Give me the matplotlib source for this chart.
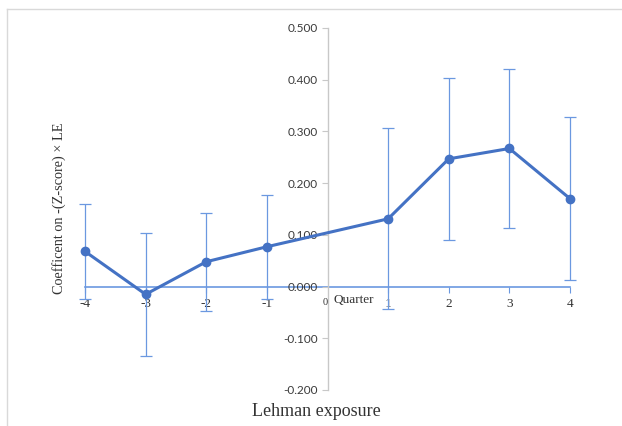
import matplotlib.pyplot as plt
from matplotlib.lines import Line2D
from matplotlib.ticker import FormatStrFormatter
import matplotlib.transforms as mtransforms

# data
quarters = [-4, -3, -2, -1, 1, 2, 3, 4]
coef = [0.068, -0.015, 0.048, 0.077, 0.131, 0.247, 0.267, 0.170]
err = [0.092, 0.119, 0.095, 0.101, 0.175, 0.156, 0.154, 0.157]
xtick_vals = [-4, -3, -2, -1, 1, 2, 3, 4]
ytick_vals = [-0.2, -0.1, 0.0, 0.1, 0.2, 0.3, 0.4, 0.5]

line_col = '#4472C4'
bar_col = '#6b98e0'
serif = 'Liberation Serif'

fig = plt.figure(figsize=(6.22, 4.26), dpi=100)
ax = fig.add_axes([85 / 622, 1 - 390 / 426, 485 / 622, 362 / 426])

# error bars then the line
ax.errorbar(quarters, coef, yerr=err, fmt='none', ecolor=bar_col,
            elinewidth=0.9, capsize=4, capthick=0.9, clip_on=False, zorder=2)
ax.plot(quarters, coef, color=line_col, lw=2.2, marker='o', ms=6,
        clip_on=False, zorder=3)

ax.set_xlim(-4, 4)
ax.set_ylim(-0.2, 0.5)

# axes crossing at zero
for s in ['top', 'right']:
    ax.spines[s].set_visible(False)
ax.spines['left'].set_position(('data', 0))
ax.spines['left'].set_color('#c8c8c8')
ax.spines['left'].set_linewidth(1.0)
ax.spines['bottom'].set_position(('data', 0))
ax.spines['bottom'].set_color(bar_col)
ax.spines['bottom'].set_linewidth(1.2)
ax.spines['bottom'].set_zorder(1)

ax.set_yticks(ytick_vals)
ax.yaxis.set_major_formatter(FormatStrFormatter('%.3f'))
ax.tick_params(axis='y', direction='out', length=4, color='#c8c8c8',
               labelsize=8.5, labelcolor='#3a3a3a', pad=3)
for lab in ax.get_yticklabels():
    lab.set_family('Lato')

ax.set_xticks(xtick_vals)
ax.set_xticklabels([str(v) for v in xtick_vals])
ax.tick_params(axis='x', direction='out', length=4, color=bar_col,
               labelsize=9.5, labelcolor='#333333', pad=4)
for lab in ax.get_xticklabels():
    lab.set_family(serif)

# the "0" label and the axis title "Quarter"
off = mtransforms.offset_copy(ax.transData, fig=fig, x=-1.5, y=-8.5, units='points')
ax.text(0, 0, '0', transform=off, ha='center', va='top', fontsize=7.5,
        family=serif, color='#333333')
off2 = mtransforms.offset_copy(ax.transData, fig=fig, x=4.5, y=-5.5, units='points')
ax.text(0, 0, 'Quarter', transform=off2, ha='left', va='top', fontsize=9.5,
        family=serif, color='#333333')

fig.text(59 / 622, 1 - 208 / 426, 'Coefficent on -(Z-score) × LE', rotation=90,
         ha='center', va='center', fontsize=10.3, family=serif, color='#333333')
fig.text(316 / 622, 1 - 411 / 426, 'Lehman exposure', ha='center', va='center',
         fontsize=13, family=serif, color='#333333')

# chart frame
fig.add_artist(Line2D([7 / 622, 1], [1 - 9 / 426, 1 - 9 / 426],
                      transform=fig.transFigure, color='#d9d9d9', lw=1))
fig.add_artist(Line2D([7 / 622, 7 / 622], [0, 1 - 9 / 426],
                      transform=fig.transFigure, color='#d9d9d9', lw=1))

fig.savefig('out.png', dpi=100)
